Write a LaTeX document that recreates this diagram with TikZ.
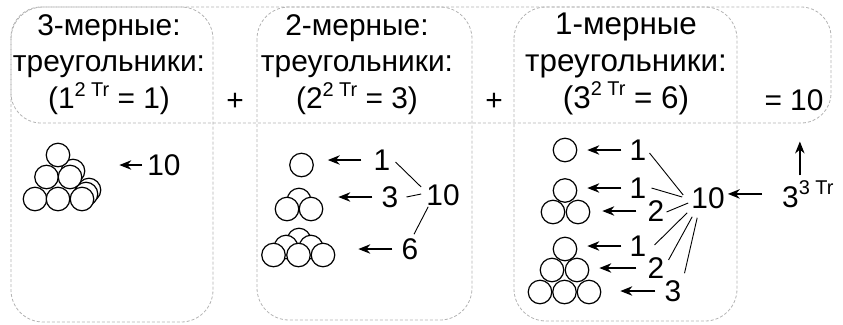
\documentclass[tikz,border=0pt]{standalone}
\usepackage{fontspec}
\setmainfont{Liberation Sans}
\usetikzlibrary{arrows.meta}

% power with the small "Tr" exponent
\newcommand{\trpow}[2]{#1\raisebox{0.42em}{\fontsize{20}{20}\selectfont #2 Tr}}

\begin{document}
\begin{tikzpicture}[
    x=1bp, y=-1bp,
    frame/.style={draw=gray!60, dash pattern=on 3bp off 2bp, line width=0.8bp,
                  rounded corners=32bp},
    head/.style={font=\fontsize{30}{37}\selectfont, align=center, anchor=north,
                 inner sep=0},
    num/.style={font=\fontsize{30}{36}\selectfont, inner sep=0},
    ball/.style={circle, draw, fill=white, line width=1.2bp,
                 minimum size=23.5bp, inner sep=0},
    arr/.style={-{Stealth[length=12bp, width=9.5bp]}, line width=1.4bp},
    fan/.style={line width=0.9bp}
  ]
  \useasboundingbox (0,0) rectangle (843,324);

  % dashed frames
  \draw[frame, rounded corners=30bp] (11,7) rectangle (831,123);
  \draw[frame] (11,7) rectangle (213,322);
  \draw[frame] (257,7) rectangle (472,320);
  \draw[frame] (514,7) rectangle (737,321);

  % headers
  \node[head] (h3) at (109,14) {3-мерные:\\треугольники:\\(\trpow{1}{2} = 1)};
  \node[head] (h2) at (357,14) {2-мерные:\\треугольники:\\(\trpow{2}{2} = 3)};
  \node[head, font=\fontsize{31.5}{37}\selectfont] (h1) at (626,13)
    {1-мерные\\треугольники:\\(\trpow{3}{2} = 6)};
  \node[num, anchor=base] (plusa) at (235,110) {+};
  \node[num, anchor=base] (plusb) at (494,110) {+};
  \node[num, anchor=base] (sum) at (794,110) {= 10};

  % 3-dim: tetrahedron of 10 balls
  \node[ball] (p9) at (89,190) {};
  \node[ball] (p8) at (86,194) {};
  \node[ball] (p7) at (73,171) {};
  \node[ball] (p1) at (58,155) {};
  \node[ball] (p2) at (46.5,177) {};
  \node[ball] (p3) at (70,177) {};
  \node[ball] (p4) at (35,199) {};
  \node[ball] (p5) at (58,199) {};
  \node[ball] (p6) at (82,199) {};
  \node[num] (ta) at (164,165) {10};
  \draw[arr, shorten <=5bp, shorten >=18bp] (ta.west) -- (ta.west -| p9.east);

  % 2-dim: triangles 1, 3, 6
  \node[ball] (q1) at (301.5,165) {};
  \node[ball] (q2) at (299,200) {};
  \node[ball] (q3) at (287,209) {};
  \node[ball] (q4) at (311,209) {};
  \node[ball] (q5) at (299,240) {};
  \node[ball] (q6) at (286,247) {};
  \node[ball] (q7) at (311,247) {};
  \node[ball] (q8) at (273.5,255) {};
  \node[ball] (q9) at (298.5,255) {};
  \node[ball] (q10) at (323,255) {};
  \node[num] (nb1) at (382,160) {1};
  \node[num] (nb3) at (390,197) {3};
  \node[num] (nb6) at (410,249) {6};
  \node[num] (tb) at (443,195) {10};
  \draw[arr, shorten <=12bp, shorten >=14bp] (nb1.west) -- (nb1.west -| q1.east);
  \draw[arr, shorten <=9bp, shorten >=15bp] (nb3.west) -- (nb3.west -| q4.east);
  \draw[arr, shorten <=9bp, shorten >=23bp] (nb6.west) -- (nb6.west -| q10.east);
  \draw[fan] ([shift={(5,2)}]nb1.east) -- ([shift={(-5,-8)}]tb.west);
  \draw[fan] ([shift={(8,0)}]nb3.east) -- ([shift={(-5,-1)}]tb.west);
  \draw[fan] ([shift={(2,1)}]tb.south west) -- ([shift={(4,-4)}]nb6.north);

  % 1-dim: rows of the triangles
  \node[ball] (r1) at (565,150) {};
  \node[ball] (r2) at (565,190.5) {};
  \node[ball] (r3) at (553,212) {};
  \node[ball] (r4) at (578,212) {};
  \node[ball] (r5) at (565,249) {};
  \node[ball] (r6) at (552,270) {};
  \node[ball] (r7) at (577,270) {};
  \node[ball] (r8) at (540,292) {};
  \node[ball] (r9) at (564.5,292) {};
  \node[ball] (r10) at (589,292) {};
  \node[num] (na1) at (638,150) {1};
  \node[num] (nc1) at (638,188) {1};
  \node[num] (nc2) at (656,211) {2};
  \node[num] (nd1) at (638,246) {1};
  \node[num] (nd2) at (656,268) {2};
  \node[num] (nd3) at (673,291) {3};
  \node[num] (tc) at (708,198) {10};
  \draw[arr, shorten <=8bp, shorten >=10bp] (na1.west) -- (na1.west -| r1.east);
  \draw[arr, shorten <=8bp, shorten >=10bp] (nc1.west) -- (nc1.west -| r2.east);
  \draw[arr, shorten <=11bp, shorten >=12bp] (nc2.west) -- (nc2.west -| r4.east);
  \draw[arr, shorten <=8bp, shorten >=10bp] (nd1.west) -- (nd1.west -| r5.east);
  \draw[arr, shorten <=11bp, shorten >=10bp] (nd2.west) -- (nd2.west -| r7.east);
  \draw[arr, shorten <=9bp, shorten >=19bp] (nd3.west) -- (nd3.west -| r10.east);
  \draw[fan] ([shift={(3,3)}]na1.east) -- ([shift={(-8,-3)}]tc.west);
  \draw[fan] ([shift={(5,0)}]nc1.east) -- ([shift={(-9,-1)}]tc.west);
  \draw[fan] ([shift={(2,1)}]nc2.east) -- ([shift={(-3,5)}]tc.west);
  \draw[fan] ([shift={(8,-1)}]nd1.east) -- ([shift={(-4,4)}]tc.south west);
  \draw[fan] ([shift={(4,-8)}]nd2.east) -- ([shift={(1,8)}]tc.south west);
  \draw[fan] ([shift={(3,-7)}]nd3.north east) -- ([shift={(6,9)}]tc.south west);

  % all of them: 3^{3 Tr}
  \node[num, anchor=base west] (pw) at (782,207) {\trpow{3}{3}};
  \draw[arr, shorten <=20bp, shorten >=3bp] (pw.west) -- (pw.west -| tc.east);
  \draw[arr, shorten <=5bp, shorten >=31bp] ([xshift=-8bp]pw.north)
    -- ([xshift=-8bp]pw.north |- sum.south);
\end{tikzpicture}
\end{document}
